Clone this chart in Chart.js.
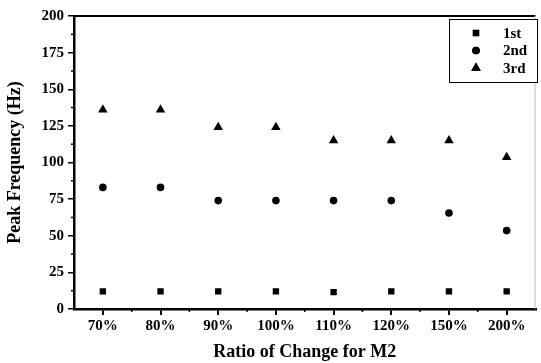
<!DOCTYPE html>
<html>
<head>
<meta charset="utf-8">
<script src="https://cdn.jsdelivr.net/npm/chart.js@4.4.1/dist/chart.umd.min.js"></script>
<style>
    html, body { margin: 0; padding: 0; background: #fff; }
    #wrap { width: 541px; height: 363px; }
</style>
</head>
<body>
<div id="wrap"><canvas id="freqChart" width="541" height="363"></canvas></div>
<script>
// Data
const ratios = ["70%", "80%", "90%", "100%", "110%", "120%", "150%", "200%"];
const firstMode = [12, 12, 12, 12, 11.5, 12, 12, 12];
const secondMode = [83, 83, 74, 74, 74, 74, 65.5, 53.5];
const thirdMode = [136, 136, 124, 124, 115, 115, 115, 103.5];
const seriesNames = ["1st", "2nd", "3rd"];
const yTicks = [0, 25, 50, 75, 100, 125, 150, 175, 200];

const FONT = "'Liberation Serif', 'Times New Roman', serif";

// minor ticks, top/right frame and the boxed legend
const extras = {
    id: 'extras',
    afterDraw(chart) {
        const { ctx, chartArea: a } = chart;
        const x = chart.scales.x, y = chart.scales.y;
        ctx.save();
        ctx.strokeStyle = "#000";

        // minor ticks on y
        ctx.lineWidth = 1.5;
        for (let i = 0; i < yTicks.length - 1; i++) {
            const py = y.getPixelForValue((yTicks[i] + yTicks[i + 1]) / 2);
            ctx.beginPath();
            ctx.moveTo(a.left - 3, py);
            ctx.lineTo(a.left, py);
            ctx.stroke();
        }
        // minor ticks on x (between categories)
        for (let i = 0; i < ratios.length - 1; i++) {
            const px = (x.getPixelForValue(i) + x.getPixelForValue(i + 1)) / 2;
            ctx.beginPath();
            ctx.moveTo(px, a.bottom);
            ctx.lineTo(px, a.bottom + 3);
            ctx.stroke();
        }

        // top frame line
        ctx.lineWidth = 2;
        ctx.beginPath();
        ctx.moveTo(a.left, a.top);
        ctx.lineTo(a.right, a.top);
        ctx.stroke();
        // right frame (faint)
        ctx.strokeStyle = "#bbb";
        ctx.lineWidth = 1;
        ctx.beginPath();
        ctx.moveTo(a.right - 0.5, a.top);
        ctx.lineTo(a.right - 0.5, a.bottom);
        ctx.stroke();

        // legend box
        const bx = 449, by = 19, bw = 88, bh = 63;
        ctx.strokeStyle = "#000";
        ctx.lineWidth = 1;
        ctx.fillStyle = "#fff";
        ctx.fillRect(bx, by, bw, bh);
        ctx.strokeRect(bx + 0.5, by + 0.5, bw, bh);

        ctx.font = "bold 15px " + FONT;
        ctx.textBaseline = "middle";
        ctx.textAlign = "left";
        chart.data.datasets.forEach((ds, i) => {
            const ry = by + 14 + i * 17.5;
            ctx.fillStyle = "#000";
            Chart.helpers.drawPoint(ctx, {
                pointStyle: ds.pointStyle,
                radius: ds.pointRadius,
                rotation: 0,
                borderWidth: 0
            }, bx + 27, ry);
            ctx.fill();
            ctx.fillText(ds.label, bx + 54, ry + 1);
        });
        ctx.restore();
    }
};

function makeSet(label, values, style, radius) {
    return {
        label,
        data: values,
        pointStyle: style,
        pointRadius: radius,
        pointHoverRadius: radius,
        backgroundColor: "#000",
        borderColor: "#000",
        borderWidth: 0,
        showLine: false
    };
}

new Chart(document.getElementById("freqChart"), {
    type: "line",
    data: {
        labels: ratios,
        datasets: [
            makeSet(seriesNames[0], firstMode, "rect", 4.5),
            makeSet(seriesNames[1], secondMode, "circle", 3.8),
            makeSet(seriesNames[2], thirdMode, "triangle", 5.5)
        ]
    },
    options: {
        responsive: false,
        animation: false,
        layout: { padding: { top: 16, right: 1, left: 0, bottom: 0 } },
        plugins: {
            legend: { display: false },
            tooltip: { enabled: false }
        },
        scales: {
            x: {
                type: "category",
                offset: true,
                border: { color: "#000", width: 2.5 },
                grid: {
                    drawOnChartArea: false,
                    color: "#000",
                    lineWidth: 2,
                    tickLength: 6,
                    offset: false
                },
                ticks: {
                    color: "#000",
                    padding: 2,
                    font: { family: FONT, size: 15, weight: "bold" }
                },
                title: {
                    display: true,
                    text: "Ratio of Change for M2",
                    color: "#000",
                    padding: { top: -3, bottom: 0 },
                    font: { family: FONT, size: 18, weight: "bold" }
                },
                afterFit(scale) { scale.height = 54; }
            },
            y: {
                min: 0,
                max: 200,
                afterBuildTicks(scale) {
                    scale.ticks = yTicks.map(v => ({ value: v }));
                },
                border: { color: "#000", width: 2.5 },
                grid: {
                    drawOnChartArea: false,
                    color: "#000",
                    lineWidth: 1.5,
                    tickLength: 6
                },
                ticks: {
                    color: "#000",
                    padding: 4,
                    font: { family: FONT, size: 15, weight: "bold" }
                },
                title: {
                    display: true,
                    text: "Peak Frequency (Hz)",
                    color: "#000",
                    padding: { top: 5, bottom: 2 },
                    font: { family: FONT, size: 18, weight: "bold" }
                },
                afterFit(scale) { scale.width = 74; }
            }
        }
    },
    plugins: [extras]
});
</script>
</body>
</html>
